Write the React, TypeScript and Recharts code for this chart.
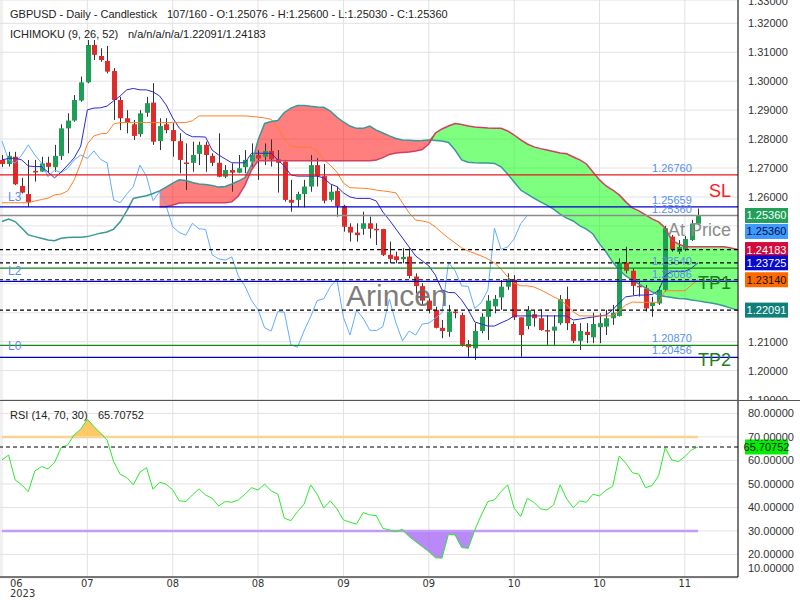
import React from "react";
import { ComposedChart, Bar, Line, Area, XAxis, YAxis, CartesianGrid, ReferenceLine } from "recharts";

// GBPUSD daily candles
const opens = [
  1.2728, 1.2714, 1.2739, 1.2638, 1.261, 1.269, 1.2688, 1.2718, 1.2703, 1.2742,
  1.2837, 1.2864, 1.2933, 1.2996, 1.3125, 1.3087, 1.307, 1.3035, 1.2935, 1.2872,
  1.2851, 1.2817, 1.2891, 1.2926, 1.2793, 1.2851, 1.2831, 1.2793, 1.2719, 1.2718,
  1.2749, 1.278, 1.2742, 1.2718, 1.267, 1.2693, 1.2684, 1.2703, 1.2722, 1.2745,
  1.2739, 1.2759, 1.273, 1.2722, 1.259, 1.259, 1.261, 1.2636, 1.271, 1.2672,
  1.259, 1.2621, 1.2569, 1.2497, 1.2477, 1.249, 1.2509, 1.249, 1.2489, 1.24,
  1.2395, 1.2385, 1.2394, 1.2325, 1.2292, 1.2242, 1.221, 1.2148, 1.2134, 1.2204,
  1.2192, 1.2092, 1.2077, 1.2137, 1.2186, 1.2222, 1.2253, 1.229, 1.2314, 1.2184,
  1.2154, 1.2195, 1.2181, 1.214, 1.2138, 1.2164, 1.2247, 1.2161, 1.2103, 1.2134,
  1.2115, 1.215, 1.2152, 1.2181, 1.2189, 1.2373, 1.2345, 1.2293, 1.2284, 1.2223,
  1.2232, 1.2279, 1.2463, 1.241, 1.2417, 1.2451, 1.25076,
];
const highs = [
  1.2745, 1.2756, 1.2756, 1.2666, 1.2728, 1.2728, 1.2739, 1.2739, 1.278, 1.2851,
  1.2889, 1.2952, 1.3016, 1.3142, 1.3142, 1.3114, 1.3122, 1.3045, 1.2946, 1.29,
  1.2866, 1.29, 1.2946, 1.2993, 1.2872, 1.2872, 1.2855, 1.282, 1.2785, 1.2791,
  1.2791, 1.2791, 1.2751, 1.282, 1.271, 1.2716, 1.2745, 1.2762, 1.2785, 1.2762,
  1.2785, 1.2799, 1.2762, 1.2728, 1.2659, 1.2618, 1.2659, 1.2745, 1.2734, 1.2714,
  1.2641, 1.2636, 1.2573, 1.2509, 1.2509, 1.2549, 1.2532, 1.2509, 1.249, 1.2446,
  1.2411, 1.2423, 1.2423, 1.2336, 1.2302, 1.225, 1.2221, 1.2175, 1.2227, 1.221,
  1.22, 1.2106, 1.2164, 1.2198, 1.2261, 1.2261, 1.2313, 1.2336, 1.233, 1.2184,
  1.2223, 1.2209, 1.2212, 1.2192, 1.2192, 1.2261, 1.229, 1.2169, 1.2164, 1.2164,
  1.22, 1.2198, 1.221, 1.2227, 1.2388, 1.2428, 1.2354, 1.2307, 1.2296, 1.2255,
  1.229, 1.25, 1.2469, 1.2451, 1.2465, 1.2521, 1.256,
];
const lows = [
  1.2704, 1.2705, 1.2641, 1.2612, 1.2566, 1.2653, 1.2687, 1.2682, 1.2687, 1.2728,
  1.2751, 1.286, 1.2929, 1.2993, 1.3073, 1.3067, 1.3027, 1.2866, 1.2831, 1.282,
  1.2797, 1.2808, 1.2877, 1.278, 1.2762, 1.282, 1.2739, 1.2682, 1.2624, 1.2687,
  1.271, 1.2687, 1.2707, 1.2668, 1.2665, 1.2618, 1.2682, 1.2682, 1.2705, 1.2659,
  1.271, 1.2705, 1.2615, 1.2584, 1.2549, 1.2566, 1.2564, 1.2618, 1.2636, 1.2578,
  1.2584, 1.2532, 1.248, 1.2446, 1.2446, 1.2469, 1.2457, 1.2434, 1.2396, 1.2371,
  1.2371, 1.2371, 1.2319, 1.2267, 1.2227, 1.2198, 1.2146, 1.2112, 1.2117, 1.2181,
  1.2083, 1.2048, 1.2037, 1.2129, 1.2106, 1.2198, 1.221, 1.2279, 1.2175, 1.2048,
  1.2143, 1.2152, 1.2138, 1.2089, 1.2089, 1.2158, 1.214, 1.2095, 1.2071, 1.2095,
  1.2095, 1.2095, 1.2123, 1.2158, 1.2187, 1.2336, 1.2261, 1.2256, 1.2204, 1.2186,
  1.2227, 1.2273, 1.2411, 1.2403, 1.2413, 1.2448, 1.2503,
];
const closes = [
  1.2714, 1.2742, 1.2644, 1.2615, 1.2582, 1.2688, 1.2716, 1.2704, 1.2742, 1.2837,
  1.2864, 1.2935, 1.2996, 1.3125, 1.3091, 1.3073, 1.3033, 1.2935, 1.2872, 1.2857,
  1.2811, 1.2889, 1.2924, 1.2791, 1.2845, 1.2831, 1.2793, 1.2728, 1.2717, 1.2745,
  1.278, 1.2745, 1.2718, 1.267, 1.2693, 1.2684, 1.2699, 1.2728, 1.2745, 1.2733,
  1.2759, 1.273, 1.2718, 1.259, 1.258, 1.261, 1.2636, 1.271, 1.2672, 1.2587,
  1.2618, 1.2569, 1.2497, 1.2477, 1.2468, 1.2509, 1.249, 1.2488, 1.24, 1.2386,
  1.2382, 1.2393, 1.2327, 1.2292, 1.2242, 1.221, 1.2148, 1.2137, 1.2204, 1.2202,
  1.2089, 1.2081, 1.2137, 1.2186, 1.2242, 1.2248, 1.229, 1.2316, 1.2184, 1.2123,
  1.2209, 1.2181, 1.214, 1.2138, 1.2152, 1.2247, 1.2164, 1.2103, 1.2137, 1.2123,
  1.2161, 1.2164, 1.2181, 1.22, 1.2373, 1.2345, 1.2293, 1.2291, 1.2215, 1.2235,
  1.2279, 1.2492, 1.2419, 1.2427, 1.2455, 1.2508, 1.2536,
];

// Ichimoku lines
const tenkan = [
  1.2728, 1.2733, 1.2734, 1.2728, 1.2707, 1.2705, 1.2705, 1.2686, 1.2666, 1.2686,
  1.271, 1.2735, 1.2776, 1.2901, 1.2907, 1.2908, 1.2914, 1.2932, 1.2949, 1.297,
  1.2975, 1.297, 1.297, 1.2963, 1.2949, 1.2918, 1.2873, 1.2838, 1.2818, 1.2808,
  1.2808, 1.2807, 1.2762, 1.2745, 1.2731, 1.2718, 1.2718, 1.2718, 1.2751, 1.2751,
  1.2751, 1.2751, 1.2728, 1.2707, 1.2676, 1.2672, 1.2672, 1.2672, 1.2672, 1.2666,
  1.2645, 1.2636, 1.2614, 1.26, 1.2595, 1.2595, 1.2595, 1.2586, 1.2548, 1.252,
  1.2489, 1.2458, 1.2427, 1.2396, 1.2379, 1.2362, 1.233, 1.2279, 1.227, 1.2269,
  1.2244, 1.221, 1.2168, 1.2161, 1.2154, 1.2154, 1.2165, 1.2175, 1.2189, 1.2189,
  1.2189, 1.2189, 1.2189, 1.2189, 1.2189, 1.2189, 1.2189, 1.2175, 1.2178, 1.2182,
  1.2185, 1.2189, 1.2192, 1.221, 1.2234, 1.2255, 1.2258, 1.2261, 1.2261, 1.2263,
  1.2276, 1.2329, 1.2343, 1.2343, 1.2343, 1.2354, 1.23725,
];
const kijun = [
  1.258, 1.258, 1.258, 1.258, 1.258, 1.2586, 1.2591, 1.2596, 1.2607, 1.261,
  1.2621, 1.2659, 1.2717, 1.2783, 1.2811, 1.2818, 1.282, 1.2852, 1.2857, 1.2857,
  1.2857, 1.2857, 1.2857, 1.2857, 1.2857, 1.2857, 1.2857, 1.2857, 1.2857, 1.2863,
  1.288, 1.288, 1.288, 1.288, 1.288, 1.288, 1.288, 1.288, 1.2878, 1.2876,
  1.2873, 1.2868, 1.2838, 1.28, 1.2776, 1.2772, 1.2772, 1.2772, 1.2759, 1.2728,
  1.271, 1.2686, 1.2648, 1.2632, 1.2631, 1.263, 1.2628, 1.2624, 1.2621, 1.2618,
  1.2614, 1.2579, 1.2545, 1.252, 1.2517, 1.2512, 1.2496, 1.2476, 1.2458, 1.2441,
  1.2424, 1.2413, 1.2405, 1.2396, 1.2386, 1.2372, 1.2351, 1.2324, 1.2303, 1.2293,
  1.2293, 1.2289, 1.2279, 1.2268, 1.2255, 1.2244, 1.2227, 1.2203, 1.2189, 1.2189,
  1.2189, 1.2189, 1.2189, 1.2189, 1.2206, 1.2227, 1.2237, 1.2236, 1.2236, 1.2236,
  1.2236, 1.2276, 1.2276, 1.2276, 1.2276, 1.2296, 1.2314,
];
// senkou spans run 26 bars past the last candle
const spanA = [
  1.2515, 1.2524, 1.2515, 1.2493, 1.2469, 1.2463, 1.2457, 1.2451, 1.2449, 1.2457,
  1.246, 1.2461, 1.2461, 1.2463, 1.2469, 1.2475, 1.2479, 1.2489, 1.2514, 1.2552,
  1.2595, 1.26, 1.2604, 1.2612, 1.2621, 1.2634, 1.2648, 1.2659, 1.2657, 1.265,
  1.2645, 1.2643, 1.264, 1.2634, 1.2636, 1.2645, 1.2655, 1.2667, 1.271, 1.2797,
  1.2854, 1.2861, 1.2864, 1.2892, 1.2907, 1.2916, 1.2916, 1.2913, 1.2911, 1.291,
  1.2897, 1.2876, 1.2859, 1.2845, 1.2837, 1.2837, 1.2845, 1.2831, 1.2821, 1.2811,
  1.2802, 1.2797, 1.2796, 1.2794, 1.2795, 1.2797, 1.2795, 1.2793, 1.2788, 1.2762,
  1.2728, 1.272, 1.2718, 1.2717, 1.2717, 1.2716, 1.2704, 1.2679, 1.2652, 1.2624,
  1.261, 1.2596, 1.2583, 1.2572, 1.2558, 1.2541, 1.2527, 1.2517, 1.25, 1.2489,
  1.2472, 1.2438, 1.241, 1.2375, 1.2348, 1.2327, 1.2313, 1.2299, 1.2286, 1.2272,
  1.2261, 1.2256, 1.2253, 1.2249, 1.2248, 1.2244, 1.2241, 1.2237, 1.2234, 1.2229,
  1.2223, 1.2216, 1.22091,
];
const spanB = [
  null, null, null, null, null, null, null, null, null, null,
  null, null, null, null, null, null, null, null, null, null,
  null, null, null, null, 1.2566, 1.2566, 1.2572, 1.2579, 1.258, 1.258,
  1.258, 1.258, 1.258, 1.258, 1.258, 1.2583, 1.2603, 1.2641, 1.2693, 1.2725,
  1.2725, 1.2725, 1.2725, 1.2725, 1.2725, 1.2725, 1.2725, 1.2725, 1.2725, 1.2725,
  1.2725, 1.2725, 1.2725, 1.2725, 1.2725, 1.2725, 1.2725, 1.2728, 1.2736, 1.2747,
  1.2752, 1.2754, 1.2755, 1.2759, 1.2764, 1.2783, 1.2821, 1.2835, 1.2845, 1.2854,
  1.285, 1.2845, 1.2842, 1.284, 1.2838, 1.2837, 1.2837, 1.2828, 1.2814, 1.2797,
  1.2783, 1.2773, 1.2767, 1.2762, 1.2757, 1.2752, 1.2749, 1.2738, 1.2728, 1.2714,
  1.2686, 1.2659, 1.2638, 1.2624, 1.2607, 1.2583, 1.2562, 1.2552, 1.2538, 1.2524,
  1.2514, 1.2493, 1.2451, 1.2438, 1.2428, 1.2428, 1.2428, 1.2428, 1.2428, 1.2428,
  1.2428, 1.2424, 1.24183,
];

const rsi = [
  60.2, 62.3, 51.7, 49.6, 46.7, 55.5, 57.4, 56.4, 59.1, 65.4,
  66.6, 70.9, 73.3, 77.5, 74.4, 71.6, 68.7, 59.5, 54.1, 52.7,
  49.6, 55.0, 56.9, 47.7, 50.7, 49.9, 47.4, 42.8, 42.5, 45.3,
  47.9, 45.3, 43.9, 40.6, 42.5, 42.2, 43.2, 45.6, 48.4, 47.4,
  49.9, 47.0, 45.7, 35.4, 34.4, 38.2, 41.4, 49.6, 45.6, 39.7,
  42.8, 39.4, 34.7, 33.7, 32.9, 37.8, 36.8, 36.5, 31.1, 30.4,
  29.7, 30.7, 27.6, 25.4, 23.3, 21.2, 18.6, 18.4, 28.6, 28.3,
  22.9, 22.6, 30.4, 36.8, 42.5, 43.2, 46.7, 49.6, 39.7, 36.1,
  43.9, 42.2, 39.4, 38.9, 41.1, 49.6, 43.6, 39.9, 42.8, 42.2,
  45.6, 44.9, 47.4, 48.9, 61.9, 58.8, 54.8, 54.1, 48.4, 49.3,
  53.5, 65.4, 60.2, 59.5, 61.6, 64.5, 65.70752,
];
const rsiUpper = 70;
const rsiLower = 30;
const rsiLast = 65.70752;

const dateTicks = [0, 13, 26, 39, 52, 65, 78, 91, 104];
const dateLabels = ["06", "07", "08", "08", "09", "09", "10", "10", "11"];
const yearLabel = "2023";
const priceTicks = [1.19, 1.2, 1.21, 1.22, 1.23, 1.24, 1.25, 1.26, 1.27, 1.28, 1.29, 1.3, 1.31, 1.32, 1.33];
const hiddenPriceTicks = [1.22, 1.23, 1.24, 1.25];
const rsiTicks = [10, 20, 30, 40, 50, 60, 70, 80];

// trade levels
const levelPrices = [1.2676, 1.25659, 1.2536, 1.2354, 1.23086, 1.2087, 1.20456];
const levelTexts = ["1.26760", "1.25659", "1.25360", "1.23540", "1.23086", "1.20870", "1.20456"];
const levelTags = ["SL", "L3", "At Price", "L2", "TP1", "L0", "TP2"];

// last values shown on the right axis
const markerValues = [1.2536, 1.2536, 1.24183, 1.23725, 1.2314, 1.22091];
const markerTexts = ["1.25360", "1.25360", "1.24183", "1.23725", "1.23140", "1.22091"];

const FONT = "'Liberation Sans', Arial, sans-serif";
const NARROW = "'Liberation Sans Narrow', 'DejaVu Sans Condensed', 'Liberation Sans', sans-serif";
const X_DOMAIN: [number, number] = [-0.305, 112.09];
const PRICE_DOMAIN: [number, number] = [1.18985, 1.32805];
const RSI_DOMAIN: [number, number] = [10.4, 85.7];

const LEVEL_STYLE = [
  { stroke: "#e31a1c", tagColor: "#ff1a1a", tagSize: 18, right: true, tagDy: 22, textDy: -3 },
  { stroke: "#0000cc", tagColor: "#5b8def", tagSize: 12, right: false, tagDy: -6, textDy: -3 },
  { stroke: "#8c8c8c", tagColor: "#8c8c8c", tagSize: 18, right: true, tagDy: 21, textDy: -2 },
  { stroke: "#138a13", tagColor: "#5b8def", tagSize: 12, right: false, tagDy: 7, textDy: -3 },
  { stroke: "#0000cc", tagColor: "#1e7e1e", tagSize: 18, right: true, tagDy: 8, textDy: -3 },
  { stroke: "#138a13", tagColor: "#5b8def", tagSize: 12, right: false, tagDy: 5, textDy: -3 },
  { stroke: "#0000cc", tagColor: "#1e7e1e", tagSize: 18, right: true, tagDy: 9, textDy: -3 },
];
const MARKER_STYLE = [
  { box: "#22a05a", text: "#ffffff", dy: 0, dashed: false },
  { box: "#3d9bff", text: "#0a0a3a", dy: 16, dashed: false },
  { box: "#d40a3c", text: "#ffffff", dy: 0, dashed: true },
  { box: "#0a0acc", text: "#ffffff", dy: 0, dashed: true },
  { box: "#ff6a00", text: "#111111", dy: 0, dashed: true },
  { box: "#0f7f7a", text: "#ffffff", dy: 0, dashed: true },
];

const rows = spanA.map((a, i) => {
  const b = spanB[i];
  const cloud = a != null && b != null;
  const r = i < rsi.length ? rsi[i] : null;
  return {
    i,
    open: opens[i] ?? null,
    high: highs[i] ?? null,
    low: lows[i] ?? null,
    close: closes[i] ?? null,
    tenkan: tenkan[i] ?? null,
    kijun: kijun[i] ?? null,
    chikou: i + 26 < closes.length ? closes[i + 26] : null,
    spanA: a,
    spanB: b,
    redCloud: cloud ? (a >= (b as number) ? [b, a] : [b, b]) : null,
    greenCloud: cloud ? ((b as number) > a ? [a, b] : [a, a]) : null,
    rsi: r,
    upper: r == null ? null : rsiUpper,
    lower: r == null ? null : rsiLower,
    overFill: r == null ? null : [rsiUpper, Math.max(r, rsiUpper)],
    underFill: r == null ? null : [Math.min(r, rsiLower), rsiLower],
  };
});

const candleRange = (r: any) => (r.open == null ? null : [r.low, r.high]);

const Candle = (props: any) => {
  const { x, y, width, height, payload } = props;
  if (!payload || payload.open == null) return <g />;
  const top = Math.min(y, y + height);
  const h = Math.abs(height);
  const span = payload.high - payload.low;
  const toY = (v: number) => top + (span === 0 ? 0 : ((payload.high - v) / span) * h);
  const up = payload.close >= payload.open;
  const yo = toY(payload.open);
  const yc = toY(payload.close);
  const bodyTop = Math.min(yo, yc);
  const bodyH = Math.max(Math.abs(yo - yc), 1.5);
  const cx = Math.round(x + width / 2) + 0.5;
  return (
    <g>
      <line x1={cx} x2={cx} y1={top} y2={top + h} stroke="#333" strokeWidth={1} />
      <rect x={cx - 2.5} y={bodyTop} width={5} height={bodyH} fill={up ? "#1f9e55" : "#e02b2b"} />
    </g>
  );
};

const PriceTick = (props: any) => {
  const { x, y, payload } = props;
  if (hiddenPriceTicks.includes(payload.value)) return <g />;
  return (
    <text x={x + 2} y={Math.max(y + 4, 5)} fill="#333" fontSize={11} fontFamily={FONT} textAnchor="start">
      {payload.value.toFixed(5)}
    </text>
  );
};

// chart-local coordinates: the RSI panel is 177px tall above its axis
const RsiTick = (props: any) => {
  const { x, y, payload } = props;
  return (
    <text x={x + 2} y={Math.min(y, 168) + 4} fill="#333" fontSize={11} fontFamily={FONT} textAnchor="start">
      {payload.value.toFixed(5)}
    </text>
  );
};

const DateTick = (props: any) => {
  const { x, y, payload } = props;
  const k = dateTicks.indexOf(payload.value);
  if (k === 0) {
    return (
      <g fontFamily={NARROW} fontSize={11} fill="#333">
        <text x={x + 8} y={y + 2}>{dateLabels[k]}</text>
        <text x={x + 8} y={y + 12}>{yearLabel}</text>
      </g>
    );
  }
  return (
    <text x={x} y={y + 2} textAnchor="middle" fontFamily={NARROW} fontSize={11} fill="#333">
      {dateLabels[k]}
    </text>
  );
};

const LevelLabel = (props: any) => {
  const { viewBox, idx } = props;
  if (!viewBox) return null;
  const y = viewBox.y;
  const x0 = viewBox.x;
  const s = LEVEL_STYLE[idx];
  return (
    <g fontFamily={FONT}>
      <text x={x0 + 652} y={y + s.textDy} fontSize={11} fill="#5b8def">{levelTexts[idx]}</text>
      <text
        x={s.right ? x0 + 731 : x0 + 8}
        y={y + s.tagDy}
        textAnchor={s.right ? "end" : "start"}
        fontSize={s.tagSize}
        fill={s.tagColor}
      >
        {levelTags[idx]}
      </text>
    </g>
  );
};

const BoxLabel = (props: any) => {
  const { viewBox, text, box, color, dy } = props;
  if (!viewBox) return null;
  const y = viewBox.y + dy;
  const x = viewBox.x + viewBox.width + 7;
  return (
    <g>
      <rect x={x} y={y - 7.5} width={43} height={15} fill={box} />
      <text x={x + 21.5} y={y + 4} textAnchor="middle" fontSize={11} fontFamily={FONT} fill={color}>
        {text}
      </text>
    </g>
  );
};

export default function App() {
  return (
    <div style={{ position: "absolute", left: 0, top: 0, width: 800, height: 600, background: "#fff", fontFamily: FONT }}>
      <div style={{ position: "absolute", left: 0, top: 0 }}>
        <ComposedChart width={800} height={400} data={rows} margin={{ top: 0, right: 0, bottom: 0, left: 0 }}>
          <CartesianGrid stroke="#e2e2e2" />
          <XAxis dataKey="i" type="number" domain={X_DOMAIN} ticks={dateTicks} interval={0} hide allowDataOverflow />
          <YAxis
            orientation="right"
            width={62}
            domain={PRICE_DOMAIN}
            ticks={priceTicks}
            interval={0}
            allowDataOverflow
            axisLine={{ stroke: "#000" }}
            tickLine={false}
            tick={<PriceTick />}
          />
          <Bar dataKey={candleRange} barSize={5} shape={Candle} isAnimationActive={false} />
          <Line dataKey="chikou" stroke="#62adff" strokeWidth={1} dot={false} activeDot={false} isAnimationActive={false} />
          <Line dataKey="tenkan" stroke="#2a2ad0" strokeWidth={1} dot={false} activeDot={false} isAnimationActive={false} />
          <Line dataKey="kijun" stroke="#ff7f27" strokeWidth={1} dot={false} activeDot={false} isAnimationActive={false} />
          <Area dataKey="redCloud" stroke="none" fill="#ff0000" fillOpacity={0.5} activeDot={false} isAnimationActive={false} />
          <Area dataKey="greenCloud" stroke="none" fill="#00ff00" fillOpacity={0.5} activeDot={false} isAnimationActive={false} />
          <Line dataKey="spanA" stroke="#3a9898" strokeWidth={1.5} dot={false} activeDot={false} isAnimationActive={false} />
          <Line dataKey="spanB" stroke="#d04060" strokeWidth={1.5} dot={false} activeDot={false} isAnimationActive={false} />
          {levelPrices.map((p, k) => (
            <ReferenceLine
              key={"lv" + k}
              y={p}
              stroke={LEVEL_STYLE[k].stroke}
              strokeWidth={k === 2 ? 1.5 : 1.2}
              label={<LevelLabel idx={k} />}
            />
          ))}
          {markerValues.map((v, k) => (
            <ReferenceLine
              key={"mk" + k}
              y={v}
              stroke={MARKER_STYLE[k].dashed ? "#000" : "none"}
              strokeDasharray="4 3"
              strokeWidth={1.2}
              label={<BoxLabel text={markerTexts[k]} box={MARKER_STYLE[k].box} color={MARKER_STYLE[k].text} dy={MARKER_STYLE[k].dy} />}
            />
          ))}
        </ComposedChart>
      </div>
      <div style={{ position: "absolute", left: 0, top: 400 }}>
        <ComposedChart width={800} height={200} data={rows} margin={{ top: 0, right: 0, bottom: 0, left: 0 }}>
          <CartesianGrid stroke="#e2e2e2" />
          <XAxis
            dataKey="i"
            type="number"
            domain={X_DOMAIN}
            ticks={dateTicks}
            interval={0}
            height={23}
            allowDataOverflow
            axisLine={{ stroke: "#000" }}
            tickLine={false}
            tick={<DateTick />}
          />
          <YAxis
            orientation="right"
            width={62}
            domain={RSI_DOMAIN}
            ticks={rsiTicks}
            interval={0}
            allowDataOverflow
            axisLine={{ stroke: "#000" }}
            tickLine={false}
            tick={<RsiTick />}
          />
          <Area dataKey="overFill" stroke="none" fill="#ffbf4d" fillOpacity={0.85} activeDot={false} isAnimationActive={false} />
          <Area dataKey="underFill" stroke="none" fill="#a66cf5" fillOpacity={0.8} activeDot={false} isAnimationActive={false} />
          <Line dataKey="upper" stroke="#f7d48f" strokeWidth={2.5} dot={false} activeDot={false} isAnimationActive={false} />
          <Line dataKey="lower" stroke="#c39af7" strokeWidth={2.5} dot={false} activeDot={false} isAnimationActive={false} />
          <Line dataKey="rsi" stroke="#2ee82e" strokeWidth={1} dot={false} activeDot={false} isAnimationActive={false} />
          <ReferenceLine
            y={rsiLast}
            stroke="#000"
            strokeDasharray="4 3"
            strokeWidth={1.2}
            label={<BoxLabel text={rsiLast.toFixed(5)} box="#00ee00" color="#111" dy={0} />}
          />
        </ComposedChart>
      </div>
      <div style={{ position: "absolute", left: 0, top: 400, width: 800, height: 1, background: "#555" }} />
      <svg width={800} height={600} style={{ position: "absolute", left: 0, top: 0, pointerEvents: "none" }}>
        <g fontFamily={FONT} fontSize={11} fill="#222">
          <text x={10} y={18}>GBPUSD - Daily - Candlestick</text>
          <text x={167} y={18}>107/160 - O:1.25076 - H:1.25600 - L:1.25030 - C:1.25360</text>
          <text x={10} y={38}>ICHIMOKU (9, 26, 52)</text>
          <text x={128} y={38}>n/a/n/a/n/a/1.22091/1.24183</text>
          <text x={10} y={419}>RSI (14, 70, 30)</text>
          <text x={98} y={419}>{rsiLast.toFixed(5)}</text>
        </g>
        <text x={346} y={306} fontFamily={FONT} fontSize={30} fill="#666" fillOpacity={0.85}>Arincen</text>
      </svg>
    </div>
  );
}
